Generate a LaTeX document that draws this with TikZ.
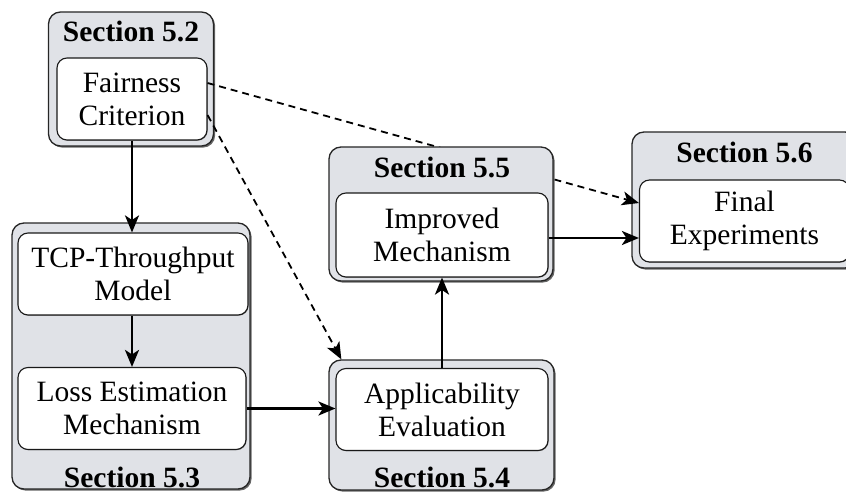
\documentclass[tikz,border=0pt]{standalone}
\usepackage{fontspec}
\setmainfont{Liberation Serif}
\usetikzlibrary{arrows.meta,shadows,calc}
\definecolor{secfill}{RGB}{224,226,231}
\pgfdeclarelayer{bottom}
\pgfdeclarelayer{links}
\pgfsetlayers{bottom,links,main}
\begin{document}
\begin{tikzpicture}[x=1pt,y=-1pt,
  every node/.style={font=\fontsize{29.5}{33}\selectfont, inner sep=0pt},
  section/.style={draw=black!85, fill=secfill, rounded corners=12pt, line width=1.3pt,
    drop shadow={shadow xshift=1.6pt, shadow yshift=-1.6pt, fill=black!60, opacity=1}},
  task/.style={draw=black!90, fill=white, rounded corners=10pt, line width=1.1pt,
    align=center, minimum height=82pt, text=black,
    drop shadow={shadow xshift=0.7pt, shadow yshift=-0.7pt, fill=black!50, opacity=1}},
  heading/.style={font=\fontsize{29.5}{33}\selectfont\bfseries, anchor=base, text=black},
  flow/.style={line width=2.5pt, -{Stealth[length=17pt,width=14pt,inset=4.5pt]}},
  hint/.style={line width=1.8pt, dash pattern=on 7pt off 5pt,
    -{Stealth[length=17pt,width=14pt,inset=4.5pt]}},
]
\useasboundingbox (0,0) rectangle (846,492);
\clip (0,0) rectangle (846,492);

% Section 5.2 and 5.6 sit below the dashed links
\begin{pgfonlayer}{bottom}
  \node[section, minimum width=165pt, minimum height=134pt] (s52) at (131,79) {};
  \node[heading] (t52) at (131,42) {Section 5.2};
  \node[task, minimum width=150pt] (fair) at (132,99) {Fairness\\Criterion};

  \node[section, minimum width=225pt, minimum height=136pt] (s56) at (744.5,200) {};
  \node[heading] (t56) at (744.5,162) {Section 5.6};
  \node[task, minimum width=210pt] (final) at (744.5,221) {Final\\Experiments};
\end{pgfonlayer}

% Section 5.3
\node[section, minimum width=238pt, minimum height=266pt] (s53) at (131,356) {};
\node[heading] (t53) at (132,487) {Section 5.3};
\node[task, minimum width=230pt] (tcp) at (133,274) {TCP-Throughput\\Model};
\node[task, minimum width=228pt] (loss) at (132,408.5) {Loss Estimation\\Mechanism};

% Section 5.4
\node[section, minimum width=225pt, minimum height=130pt] (s54) at (441.5,425) {};
\node[heading] (t54) at (442,487) {Section 5.4};
\node[task, minimum width=212pt] (appl) at (442,409.5) {Applicability\\Evaluation};

% Section 5.5
\node[section, minimum width=224pt, minimum height=134pt] (s55) at (441,214) {};
\node[heading] (t55) at (442,177) {Section 5.5};
\node[task, minimum width=212pt, minimum height=84pt] (impr) at (442,235) {Improved\\Mechanism};

% dashed dependencies
\begin{pgfonlayer}{links}
  \draw[hint] ($(fair.east)+(0,-16)$) -- ($(final.west)+(0,-18)$);
  \draw[hint] ($(fair.east)+(0,16)$) -- ($(s54.north west)+(13,0)$);
\end{pgfonlayer}

% main flow
\draw[flow] (fair.south) -- (fair.south |- tcp.north);
\draw[flow] (loss.north |- tcp.south) -- (loss.north);
\draw[flow] (loss.east) -- (loss.east -| appl.west);
\draw[flow] (appl.north) -- (appl.north |- impr.south);
\draw[flow] ($(impr.east)+(0,3)$) -- ($(impr.east -| final.west)+(0,3)$);
\end{tikzpicture}
\end{document}
